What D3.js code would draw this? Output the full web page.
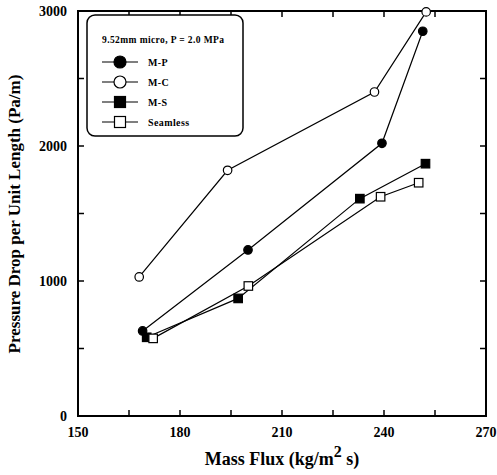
<!DOCTYPE html>
<html><head><meta charset="utf-8">
<script src="https://cdn.jsdelivr.net/npm/d3@7"></script>
<style>body{margin:0;background:#fff}svg{display:block}text{font-family:"Liberation Serif","Times New Roman",serif;font-weight:bold;fill:#000}</style>
</head><body>
<script>
const xTicks = [150, 180, 210, 240, 270];
const yTicks = [0, 1000, 2000, 3000];
const seriesNames = ["M-P", "M-C", "M-S", "Seamless"];
const mpX = [169, 200, 239.4, 251.4];
const mpY = [630, 1230, 2020, 2850];
const mcX = [168, 194, 237.2, 252.4];
const mcY = [1030, 1820, 2400, 2993];
const msX = [170.2, 197.1, 232.9, 252.2];
const msY = [583, 871, 1610, 1869];
const slX = [172.1, 200.1, 239, 250.2];
const slY = [575, 963, 1624, 1728];
const legendTitle = "9.52mm micro, P = 2.0 MPa";

const W = 497, H = 475;
const m = {l: 78, r: 486, t: 11, b: 416};
const svg = d3.select("body").append("svg").attr("width", W).attr("height", H);
const x = d3.scaleLinear().domain([150, 270]).range([m.l, m.r]);
const y = d3.scaleLinear().domain([0, 3000]).range([m.b, m.t]);

// frame
svg.append("rect").attr("x", m.l).attr("y", m.t).attr("width", m.r - m.l).attr("height", m.b - m.t)
  .attr("fill", "none").attr("stroke", "#000").attr("stroke-width", 2);

// ticks (inward)
const xMinor = d3.range(150, 271, 15);
const yMinor = d3.range(0, 3001, 500);
const tl = 6;
const g = svg.append("g").attr("stroke", "#000").attr("stroke-width", 1.5);
xMinor.forEach(v => {
  g.append("line").attr("x1", x(v)).attr("x2", x(v)).attr("y1", m.b).attr("y2", m.b - tl);
  g.append("line").attr("x1", x(v)).attr("x2", x(v)).attr("y1", m.t).attr("y2", m.t + tl);
});
yMinor.forEach(v => {
  g.append("line").attr("y1", y(v)).attr("y2", y(v)).attr("x1", m.l).attr("x2", m.l + tl);
  g.append("line").attr("y1", y(v)).attr("y2", y(v)).attr("x1", m.r).attr("x2", m.r - tl);
});

// tick labels
svg.selectAll(".xt").data(xTicks).enter().append("text")
  .attr("x", d => x(d)).attr("y", 437).attr("text-anchor", "middle").attr("font-size", 14).text(d => d);
svg.selectAll(".yt").data(yTicks).enter().append("text")
  .attr("x", 67).attr("y", d => y(d) + 5).attr("text-anchor", "end").attr("font-size", 14).text(d => d);

// axis titles
const xt = svg.append("text").attr("x", 282).attr("y", 465).attr("text-anchor", "middle").attr("font-size", 18);
xt.append("tspan").text("Mass Flux (kg/m");
xt.append("tspan").attr("dy", -8).attr("font-size", 16).text("2");
xt.append("tspan").attr("dy", 8).text(" s)");
svg.append("text").attr("transform", "translate(20,214) rotate(-90)").attr("text-anchor", "middle")
  .attr("font-size", 17).text("Pressure Drop per Unit Length (Pa/m)");

// series
const series = [
  {name: seriesNames[0], xs: mpX, ys: mpY, shape: "circle", fill: "#000"},
  {name: seriesNames[1], xs: mcX, ys: mcY, shape: "circle", fill: "#fff"},
  {name: seriesNames[2], xs: msX, ys: msY, shape: "square", fill: "#000"},
  {name: seriesNames[3], xs: slX, ys: slY, shape: "square", fill: "#fff"}
];
const line = d3.line().x(d => x(d[0])).y(d => y(d[1]));
function marker(sel, shape, fill, cx, cy, sz) {
  if (shape === "circle") {
    sel.append("circle").attr("cx", cx).attr("cy", cy).attr("r", sz / 2)
      .attr("fill", fill).attr("stroke", "#000").attr("stroke-width", 1.2);
  } else {
    sel.append("rect").attr("x", cx - sz / 2).attr("y", cy - sz / 2).attr("width", sz).attr("height", sz)
      .attr("fill", fill).attr("stroke", "#000").attr("stroke-width", 1.2);
  }
}
series.forEach(s => {
  const pts = s.xs.map((v, i) => [v, s.ys[i]]);
  svg.append("path").attr("d", line(pts)).attr("fill", "none").attr("stroke", "#000").attr("stroke-width", 1.2);
});
series.forEach(s => {
  s.xs.forEach((v, i) => marker(svg, s.shape, s.fill, x(v), y(s.ys[i]), 8.5));
});

// legend
const lg = svg.append("g");
lg.append("rect").attr("x", 87).attr("y", 15).attr("width", 156).attr("height", 121).attr("rx", 8)
  .attr("fill", "#fff").attr("stroke", "#000").attr("stroke-width", 1.5);
lg.append("text").attr("x", 102).attr("y", 43).attr("font-size", 9.5).attr("letter-spacing", 0.4).text(legendTitle);
series.forEach((s, i) => {
  const yy = 62 + i * 20;
  lg.append("line").attr("x1", 102).attr("x2", 138).attr("y1", yy).attr("y2", yy).attr("stroke", "#000").attr("stroke-width", 1.2);
  marker(lg, s.shape, s.fill, 120, yy, s.shape === "circle" ? 12 : 11);
  lg.append("text").attr("x", 148).attr("y", yy + 3.5).attr("font-size", 10).attr("letter-spacing", 0.4).text(s.name);
});
</script>
</body></html>
